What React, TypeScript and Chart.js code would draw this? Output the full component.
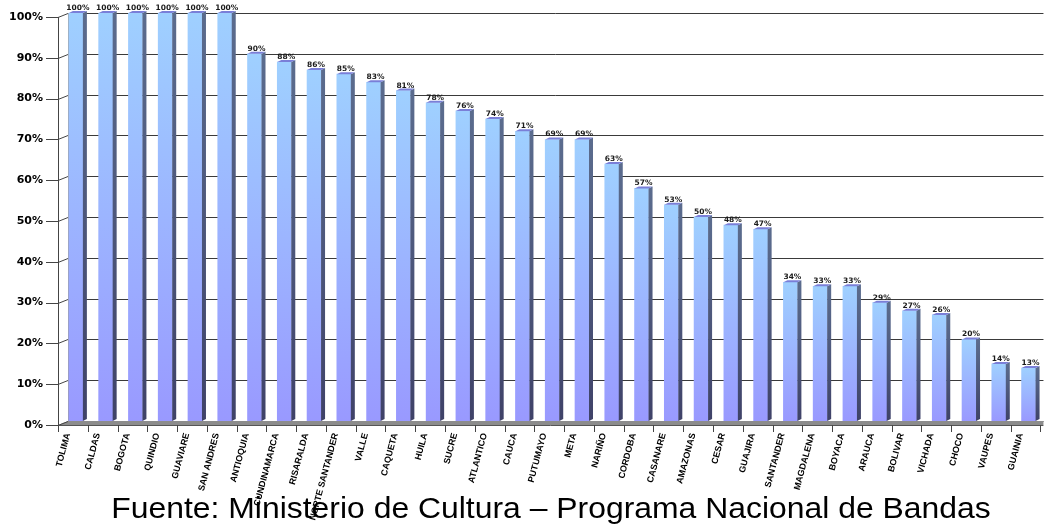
import React, { useEffect, useRef } from 'react';
import { Chart, registerables } from 'chart.js';

Chart.register(...registerables);

const categories = [
  'TOLIMA', 'CALDAS', 'BOGOTA', 'QUINDIO', 'GUAVIARE', 'SAN ANDRES', 'ANTIOQUIA',
  'CUNDINAMARCA', 'RISARALDA', 'NORTE SANTANDER', 'VALLE', 'CAQUETA', 'HUILA',
  'SUCRE', 'ATLANTICO', 'CAUCA', 'PUTUMAYO', 'META', 'NARIÑO', 'CORDOBA',
  'CASANARE', 'AMAZONAS', 'CESAR', 'GUAJIRA', 'SANTANDER', 'MAGDALENA', 'BOYACA',
  'ARAUCA', 'BOLIVAR', 'VICHADA', 'CHOCO', 'VAUPES', 'GUAINIA',
];

const coverage = [
  100, 100, 100, 100, 100, 100, 90,
  88, 86, 85, 83, 81, 78,
  76, 74, 71, 69, 69, 63, 57,
  53, 50, 48, 47, 34, 33, 33,
  29, 27, 26, 20, 14, 13,
];

const yTickValues = [0, 10, 20, 30, 40, 50, 60, 70, 80, 90, 100];

const sourceNote = 'Fuente: Ministerio de Cultura – Programa Nacional de Bandas';

const DX = 10; // depth offset (front -> wall), x
const DY = 4; // depth offset (front -> wall), y
const SIDE_X = 4;
const SIDE_Y = 2;

const threeDPlugin = {
  id: 'threeD',
  beforeDatasetsDraw(chart: any) {
    const { ctx, chartArea, scales } = chart;
    const ys = scales.y;
    const xs = scales.x;
    const wallLeft = chartArea.left + 7;
    const right = chartArea.right;
    const frontLeft = wallLeft - DX;
    ctx.save();
    ctx.lineWidth = 1;
    ctx.strokeStyle = '#3a3a3a';
    yTickValues.forEach((v) => {
      const y = Math.round(ys.getPixelForValue(v)) + 0.5;
      ctx.beginPath();
      ctx.moveTo(wallLeft, y);
      ctx.lineTo(right, y);
      ctx.stroke();
    });
    ctx.strokeStyle = '#9a9a9a';
    ctx.beginPath();
    ctx.moveTo(wallLeft + 0.5, ys.getPixelForValue(100));
    ctx.lineTo(wallLeft + 0.5, ys.getPixelForValue(0));
    ctx.stroke();
    const y0 = ys.getPixelForValue(0);
    ctx.fillStyle = '#8c8c8c';
    ctx.beginPath();
    ctx.moveTo(frontLeft, y0 + DY);
    ctx.lineTo(wallLeft, y0);
    ctx.lineTo(right, y0);
    ctx.lineTo(right, y0 + DY);
    ctx.closePath();
    ctx.fill();
    ctx.strokeStyle = '#555555';
    ctx.beginPath();
    ctx.moveTo(frontLeft, y0 + DY + 0.5);
    ctx.lineTo(right, y0 + DY + 0.5);
    ctx.stroke();
    ctx.strokeStyle = '#444444';
    ctx.beginPath();
    ctx.moveTo(frontLeft + 0.5, ys.getPixelForValue(100) + DY);
    ctx.lineTo(frontLeft + 0.5, y0 + DY);
    ctx.stroke();
    yTickValues.forEach((v) => {
      const y = Math.round(ys.getPixelForValue(v)) + 0.5;
      ctx.beginPath();
      ctx.moveTo(frontLeft - 12, y + DY);
      ctx.lineTo(frontLeft, y + DY);
      ctx.lineTo(wallLeft, y);
      ctx.stroke();
    });
    const n = categories.length;
    const cw = (xs.right - xs.left) / n;
    for (let i = 0; i <= n; i++) {
      const x = Math.round(xs.left + i * cw - 3) + 0.5;
      ctx.beginPath();
      ctx.moveTo(x, y0 + DY);
      ctx.lineTo(x, y0 + DY + 7);
      ctx.stroke();
    }
    ctx.restore();
  },
  afterDatasetsDraw(chart: any) {
    const { ctx } = chart;
    const meta = chart.getDatasetMeta(0);
    ctx.save();
    meta.data.forEach((el: any, i: number) => {
      const { x, y, base, width } = el.getProps(['x', 'y', 'base', 'width'], true);
      const l = x - width / 2;
      const r = x + width / 2;
      const sg = ctx.createLinearGradient(0, y, 0, base);
      sg.addColorStop(0, '#5b6c8e');
      sg.addColorStop(1, '#3f4268');
      ctx.fillStyle = sg;
      ctx.beginPath();
      ctx.moveTo(r, y);
      ctx.lineTo(r + SIDE_X, y - SIDE_Y);
      ctx.lineTo(r + SIDE_X, base - SIDE_Y);
      ctx.lineTo(r, base);
      ctx.closePath();
      ctx.fill();
      ctx.fillStyle = '#7a7fd8';
      ctx.beginPath();
      ctx.moveTo(l, y);
      ctx.lineTo(r, y);
      ctx.lineTo(r + SIDE_X, y - SIDE_Y);
      ctx.lineTo(l + SIDE_X, y - SIDE_Y);
      ctx.closePath();
      ctx.fill();
      ctx.fillStyle = '#1a1a1a';
      ctx.font = 'bold 7.5px "DejaVu Sans"';
      ctx.textAlign = 'center';
      ctx.textBaseline = 'alphabetic';
      ctx.fillText(`${coverage[i]}%`, x + 2, y - 3);
    });
    ctx.restore();
  },
};

export default function App() {
  const canvasRef = useRef<HTMLCanvasElement | null>(null);

  useEffect(() => {
    document.body.style.margin = '0';
    const canvas = canvasRef.current;
    if (!canvas) return;
    const chart = new Chart(canvas, {
      type: 'bar',
      data: {
        labels: categories,
        datasets: [
          {
            data: coverage,
            barThickness: 14,
            borderWidth: 0,
            backgroundColor: (c: any) => {
              const ch = c.chart;
              if (!ch.chartArea || c.type !== 'data') return '#99bbff';
              const ys = ch.scales.y;
              const top = ys.getPixelForValue(coverage[c.dataIndex]);
              const bot = ys.getPixelForValue(0);
              const g = ch.ctx.createLinearGradient(0, top, 0, bot);
              g.addColorStop(0, '#9fd0ff');
              g.addColorStop(1, '#9999ff');
              return g;
            },
          },
        ],
      },
      options: {
        responsive: false,
        maintainAspectRatio: false,
        devicePixelRatio: 1,
        animation: false,
        layout: { padding: { top: 13, left: 0, right: 0, bottom: 0 } },
        plugins: {
          legend: { display: false },
          tooltip: { enabled: false },
          title: { display: false },
        },
        scales: {
          x: {
            type: 'category',
            offset: true,
            grid: { display: false, drawTicks: false },
            border: { display: false },
            ticks: {
              autoSkip: false,
              maxRotation: 75,
              minRotation: 75,
              padding: 11,
              labelOffset: -8,
              color: '#000000',
              font: { family: '"Liberation Sans", Arial', size: 9, weight: 'bold' },
            },
            afterFit: (s: any) => {
              s.height = 105;
            },
          },
          y: {
            min: 0,
            max: 100,
            grid: { display: false, drawTicks: false },
            border: { display: false },
            ticks: {
              stepSize: 10,
              padding: 18,
              labelOffset: 4,
              color: '#000000',
              font: { family: '"DejaVu Sans"', size: 11, weight: 'bold' },
              callback: (v: any) => `${v}%`,
            },
            afterFit: (s: any) => {
              s.width = 61;
              s.paddingTop = 0;
              s.paddingBottom = 0;
            },
          },
        },
      },
      plugins: [threeDPlugin],
    });
    return () => chart.destroy();
  }, []);

  return (
    <div style={{ position: 'relative', width: 1050, height: 526, background: '#ffffff', overflow: 'hidden' }}>
      <canvas ref={canvasRef} width={1050} height={526} style={{ width: 1050, height: 526, display: 'block' }} />
      <div
        style={{
          position: 'absolute',
          left: 551,
          top: 494,
          transform: 'translateX(-50%) scaleX(1.1)',
          whiteSpace: 'nowrap',
          fontFamily: '"Liberation Sans", Arial, sans-serif',
          fontSize: 29,
          lineHeight: '29px',
          color: '#000000',
        }}
      >
        {sourceNote}
      </div>
    </div>
  );
}
